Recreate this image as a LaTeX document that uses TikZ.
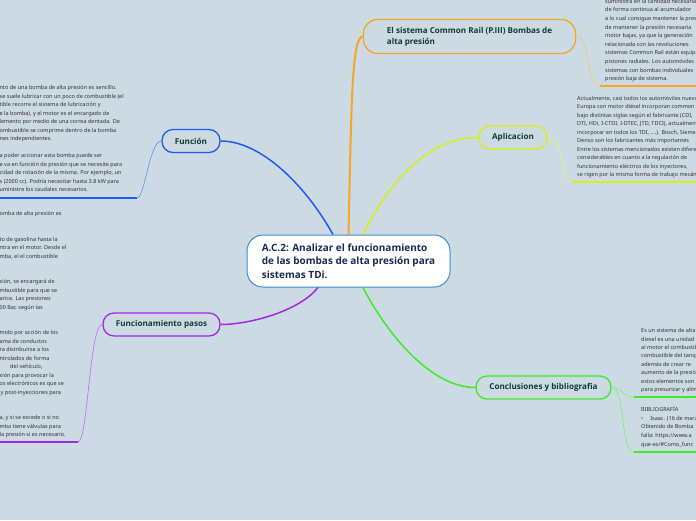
\documentclass[tikz,border=0pt]{standalone}
\usepackage{fontspec}
\setmainfont{Noto Sans}
\newfontfamily\headfont{Open Sans}
\definecolor{bgmap}{RGB}{204,219,227}
\definecolor{cfun}{RGB}{30,90,240}
\definecolor{cpas}{RGB}{166,38,232}
\definecolor{crail}{RGB}{245,165,40}
\definecolor{capl}{RGB}{212,240,20}
\definecolor{ccon}{RGB}{60,235,40}
\definecolor{ccen}{RGB}{58,140,210}
\definecolor{topictxt}{RGB}{16,60,50}
\definecolor{centxt}{RGB}{26,42,80}
\definecolor{notetxt}{RGB}{50,50,50}

\begin{document}
\begin{tikzpicture}[x=1pt,y=-1pt,
  central/.style={draw=ccen,fill=white,line width=1pt,rounded corners=16pt,minimum width=203pt,minimum height=52pt,inner sep=0pt,align=left,text=centxt,font=\headfont\fontsize{10}{13.6}\selectfont\bfseries},
  topic/.style={draw=#1,fill=bgmap,line width=1.3pt,rounded corners=11pt,minimum height=23pt,inner sep=0pt,align=left,text=topictxt,font=\headfont\fontsize{8.1}{11}\selectfont\bfseries},
  branch/.style={draw=#1,line width=1.5pt},
  twig/.style={draw=#1!65!white,line width=0.7pt},
  under/.style={draw=#1,line width=2pt},
  note/.style={anchor=base west,inner sep=0pt,text=notetxt,font=\fontsize{5.5}{8.5}\selectfont}]
\useasboundingbox (0,0) rectangle (696,520);
\fill[bgmap] (0,0) rectangle (696,520);

% main nodes
\node[central] (center) at (348.5,261) {A.C.2: Analizar el funcionamiento\\de las bombas de alta presión para\\sistemas TDi.};
\node[topic=crail,minimum width=212pt,minimum height=34pt,rounded corners=14pt] (rail) at (469.5,36.5) {El sistema Common Rail (P.III) Bombas de\\alta presión};
\node[topic=capl,minimum width=68pt] (aplic) at (513,137.5) {Aplicacion};
\node[topic=cfun,minimum width=58pt] (funcion) at (191,141) {Función};
\node[topic=cpas,minimum width=117pt] (pasos) at (161.5,324.5) {Funcionamiento pasos};
\node[topic=ccon,minimum width=135pt] (concl) at (543.5,387.5) {Conclusiones y bibliografia};

% branches from the centre
\draw[branch=cfun] ([xshift=-15.5pt]center.north) .. controls +(-28,-50) and +(40,0) .. (funcion.east);
\draw[branch=crail,line width=2pt] (center.north) .. controls +(3,-135) and +(-11,0) .. (rail.west);
\draw[branch=capl] ([xshift=14.5pt]center.north) .. controls +(27,-55) and +(-49,0) .. (aplic.west);
\draw[branch=cpas] ([xshift=-30.5pt]center.south) .. controls +(-18,23) and +(30,0) .. (pasos.east);
\draw[branch=ccon] ([xshift=14.5pt]center.south) .. controls +(22,43) and +(-46,0) .. (concl.west);

% ends of the text underlines
\coordinate (funu) at (137,198);   \coordinate (funl) at (0,198);
\coordinate (pasu) at (78,442);    \coordinate (pasl) at (0,442);
\coordinate (railu) at (600,85.5); \coordinate (railr) at (700,85.5);
\coordinate (aplu) at (572,182);   \coordinate (aplr) at (700,182);
\coordinate (conu) at (634,397);   \coordinate (conr) at (700,397);
\coordinate (bibu) at (634,452);   \coordinate (bibr) at (700,452);

\draw[twig=cfun] (funcion.west) .. controls +(-12,0) and +(8,0) .. (funu);
\draw[under=cfun] (funu) -- (funl);
\draw[twig=cpas] (pasos.west) .. controls +(-13,0) and +(10,0) .. (pasu);
\draw[under=cpas] (pasu) -- (pasl);
\draw[twig=crail] (rail.east) .. controls +(15,0) and +(-15,0) .. (railu);
\draw[under=crail] (railu) -- (railr);
\draw[twig=capl] (aplic.east) .. controls +(18,0) and +(-12,0) .. (aplu);
\draw[under=capl] (aplu) -- (aplr);
\draw[twig=ccon] (concl.east) .. controls +(11,0) and +(-12,0) .. (conu);
\draw[under=ccon] (conu) -- (conr);
\draw[twig=ccon] (concl.east) .. controls +(14,0) and +(-14,0) .. (bibu);
\draw[under=ccon] (bibu) -- (bibr);

% texts of the branches
\foreach \txt [count=\i] in {nto de una bomba de alta presión es sencillo.,
  se suele lubricar con un poco de combustible (el,
  tible recorre el sistema de lubricación y,
  e la bomba){,} y el motor es el encargado de,
  lemento por medio de una correa dentada. De,
  ombustible se comprime dentro de la bomba,
  nes independientes.,{},
  a poder accionar esta bomba puede ser,
  e va en función de presión que se necesite para,
  cidad de rotación de la misma. Por ejemplo{,} un,
  s (2000 cc). Podría necesitar hasta 3.8 kW para,
  uministre los caudales necesarios.}
  \node[note] (fun\i) at (-0.5,{81.1+8.5*\i}) {\txt};

\foreach \txt [count=\i] in {omba de alta presión es,{},{},
  to de gasolina hasta la,
  ntra en el motor. Desde el,
  mba{,} el el combustible,{},{},
  sión{,} se encargará de,
  mbustible para que se,
  arice. Las presiones,
  00 Bar{,} según las,{},{},
  mido por acción de los,
  ama de conductos,
  ra distribuirse a los,
  ntrolados de forma,{},
  sión para provocar la,
  os electrónicos es que se,{},{},{},
  a{,} y si se excede o si no,
  mba tiene válvulas para,
  la presión si es necesario.}
  \node[note] (pas\i) at (-0.5,{207.1+8.5*\i}) {\txt};
\node[note] (pasveh) at (10,{207.1+8.5*19}) {del vehículo,};
\node[note] (paspost) at (0.5,{207.1+8.5*22}) {y post-inyecciones para};

\foreach \txt [count=\i] in {suministra en la cantidad necesaria,
  de forma continua al acumulador,
  a lo cual consigue mantener la presión,
  de mantener la presión necesaria,
  motor bajas{,} ya que la generación,
  relacionada con las revoluciones,
  sistemas Common Rail están equipados,
  pistones radiales. Los automóviles,
  sistemas con bombas individuales,
  presión baja de sistema.}
  \node[note] (rail\i) at (605,{-5.3+8.6*\i}) {\txt};

\foreach \txt [count=\i] in {Actualmente{,} casi todos los automóviles nuevos,
  Europa con motor diésel incorporan common,
  bajo distintas siglas según el fabricante (CDI{,},
  DTI{,} HDi{,} I-CTDI{,} I-DTEC{,} JTD{,} TDCI){,} actualmente,
  incorporar en todos los TDI{,} .{}.{}.{}.). Bosch{,} Siemens,
  Denso son los fabricantes más importantes,
  Entre los sistemas mencionados existen diferencias,
  considerables en cuanto a la regulación de,
  funcionamiento eléctrico de los inyectores{,},
  se rigen por la misma forma de trabajo mecánico}
  \node[note] (apl\i) at (577,{91.8+8.5*\i}) {\txt};

\foreach \txt [count=\i] in {Es un sistema de alta,
  diesel es una unidad,
  al motor el combustible,
  combustible del tanque,
  además de crear re,
  aumento de la presión,
  estos elementos son,
  para presurizar y alimentar}
  \node[note] (con\i) at (641,{324.2+8.4*\i}) {\txt};

\foreach \txt [count=\i] in {BIBLIOGRAFÍA,
  \textbullet\hspace*{7pt}Isaac. (16 de marzo,
  Obtenido de Bomba,
  falla: https://www.a,
  que-es/\#Como\_func}
  \node[note] (bib\i) at (641,{403+8.6*\i}) {\txt};
\end{tikzpicture}
\end{document}
